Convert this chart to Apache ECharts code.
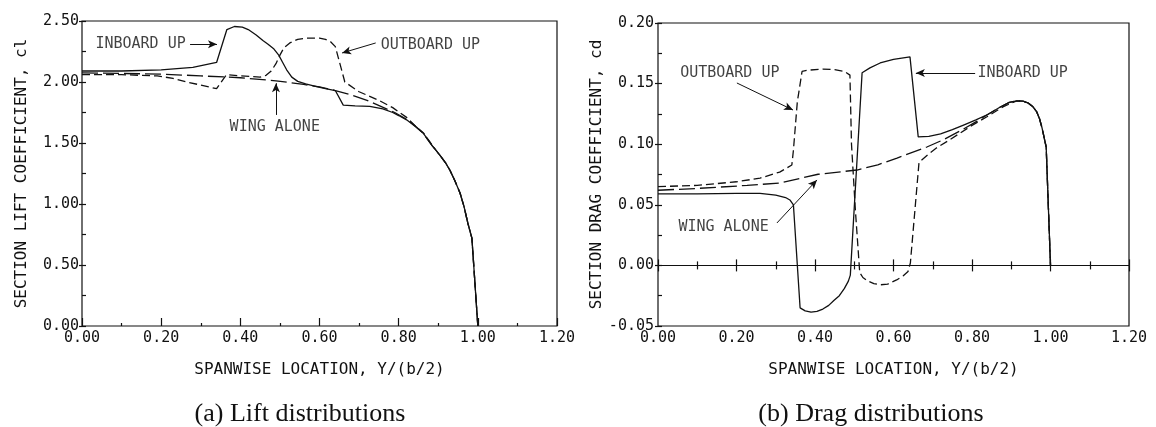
<!DOCTYPE html>
<html>
<head>
<meta charset="utf-8">
<script src="https://cdn.jsdelivr.net/npm/echarts@6/dist/echarts.min.js"></script>
<style>
html, body { margin: 0; padding: 0; background: #fff; }
#chart { width: 1156px; height: 427px; }
</style>
</head>
<body>
<div id="chart"></div>
<script>
// section lift coefficient cl vs spanwise location y/(b/2)
const liftInboardUp = [
  [0, 2.09], [0.1, 2.09], [0.2, 2.10], [0.28, 2.12], [0.34, 2.16], [0.366, 2.43],
  [0.385, 2.455], [0.405, 2.45], [0.42, 2.43], [0.44, 2.385], [0.457, 2.34],
  [0.47, 2.31], [0.485, 2.27], [0.497, 2.22], [0.507, 2.16], [0.517, 2.10],
  [0.53, 2.04], [0.545, 2.005], [0.565, 1.985], [0.59, 1.965], [0.615, 1.945],
  [0.64, 1.93], [0.66, 1.81], [0.69, 1.805], [0.727, 1.80], [0.76, 1.78],
  [0.785, 1.75], [0.80, 1.725], [0.82, 1.69], [0.842, 1.635], [0.862, 1.58],
  [0.884, 1.48], [0.904, 1.40], [0.918, 1.34], [0.929, 1.28], [0.942, 1.19],
  [0.955, 1.09], [0.965, 0.98], [0.975, 0.84], [0.985, 0.72], [1.0, 0.0]
]
const liftOutboardUp = [
  [0, 2.06], [0.1, 2.06], [0.19, 2.05], [0.23, 2.03], [0.265, 2.00], [0.30, 1.975],
  [0.34, 1.945], [0.365, 2.06], [0.40, 2.05], [0.45, 2.04], [0.465, 2.055],
  [0.478, 2.09], [0.49, 2.15], [0.50, 2.22], [0.51, 2.28], [0.525, 2.32],
  [0.545, 2.35], [0.568, 2.36], [0.60, 2.36], [0.615, 2.35], [0.628, 2.33],
  [0.64, 2.29], [0.664, 2.00], [0.70, 1.92], [0.75, 1.85], [0.785, 1.79],
  [0.80, 1.755], [0.82, 1.71], [0.842, 1.64], [0.862, 1.585], [0.884, 1.485],
  [0.904, 1.40], [0.918, 1.34], [0.929, 1.28], [0.942, 1.19], [0.955, 1.09],
  [0.965, 0.98], [0.975, 0.84], [0.985, 0.72], [1.0, 0.0]
]
const liftWingAlone = [
  [0, 2.075], [0.1, 2.07], [0.2, 2.065], [0.3, 2.05], [0.4, 2.035], [0.49, 2.01],
  [0.56, 1.98], [0.60, 1.96], [0.64, 1.93], [0.68, 1.895], [0.72, 1.85],
  [0.755, 1.80], [0.79, 1.75], [0.82, 1.695], [0.842, 1.64], [0.862, 1.58],
  [0.884, 1.48], [0.904, 1.40], [0.918, 1.34], [0.929, 1.28], [0.942, 1.19],
  [0.955, 1.09], [0.965, 0.98], [0.975, 0.84], [0.985, 0.72], [1.0, 0.0]
]

// section drag coefficient cd vs spanwise location y/(b/2)
const dragInboardUp = [
  [0, 0.059], [0.1, 0.059], [0.2, 0.0595], [0.26, 0.0595], [0.30, 0.058],
  [0.325, 0.056], [0.336, 0.054], [0.345, 0.050], [0.362, -0.035], [0.375, -0.0375],
  [0.39, -0.0385], [0.405, -0.038], [0.42, -0.036], [0.435, -0.033], [0.448, -0.029],
  [0.462, -0.025], [0.475, -0.019], [0.485, -0.013], [0.49, -0.008], [0.52, 0.159],
  [0.54, 0.163], [0.566, 0.167], [0.60, 0.170], [0.642, 0.172], [0.663, 0.106],
  [0.69, 0.1065], [0.72, 0.1085], [0.75, 0.112], [0.78, 0.116], [0.81, 0.120],
  [0.84, 0.1245], [0.871, 0.1305], [0.895, 0.1345], [0.914, 0.1358], [0.93, 0.1355],
  [0.943, 0.134], [0.955, 0.131], [0.965, 0.1266], [0.972, 0.121], [0.978, 0.114],
  [0.989, 0.0977], [1.0, 0.0]
]
const dragOutboardUp = [
  [0, 0.065], [0.1, 0.066], [0.2, 0.069], [0.26, 0.072], [0.31, 0.077],
  [0.341, 0.0828], [0.345, 0.095], [0.355, 0.135], [0.367, 0.160], [0.38, 0.161],
  [0.42, 0.162], [0.45, 0.1615], [0.475, 0.160], [0.489, 0.157], [0.493, 0.10],
  [0.503, 0.045], [0.514, -0.006], [0.522, -0.010], [0.535, -0.013], [0.55, -0.015],
  [0.566, -0.016], [0.585, -0.0155], [0.608, -0.012], [0.625, -0.0085], [0.637, -0.005],
  [0.643, 0.002], [0.665, 0.085], [0.69, 0.092], [0.71, 0.097], [0.74, 0.103],
  [0.769, 0.109], [0.80, 0.1155], [0.838, 0.1226], [0.88, 0.131], [0.914, 0.1358],
  [0.93, 0.1355], [0.943, 0.134], [0.955, 0.131], [0.965, 0.1266], [0.972, 0.121],
  [0.978, 0.114], [0.989, 0.0977], [1.0, 0.0]
]
const dragWingAlone = [
  [0, 0.062], [0.1, 0.0635], [0.227, 0.066], [0.311, 0.068], [0.408, 0.0752],
  [0.507, 0.0787], [0.56, 0.083], [0.609, 0.0886], [0.685, 0.0977], [0.726, 0.1035],
  [0.77, 0.111], [0.813, 0.119], [0.84, 0.1245], [0.871, 0.1305], [0.895, 0.1345],
  [0.914, 0.1358], [0.93, 0.1355], [0.943, 0.134], [0.955, 0.131], [0.965, 0.1266],
  [0.972, 0.121], [0.978, 0.114], [0.989, 0.0977], [1.0, 0.0]
]

// annotations: text anchor and arrow (from, to), in data units
const liftNotes = [
  { name: 'INBOARD UP', value: [0.148, 2.31] },
  { name: 'OUTBOARD UP', value: [0.88, 2.303] },
  { name: 'WING ALONE', value: [0.487, 1.631] }
]
const liftArrows = [
  [[0.273, 2.31], [0.341, 2.31]],
  [[0.742, 2.32], [0.657, 2.238]],
  [[0.49, 1.73], [0.49, 1.99]]
]
const dragNotes = [
  { name: 'OUTBOARD UP', value: [0.183, 0.1587] },
  { name: 'INBOARD UP', value: [0.929, 0.1587] },
  { name: 'WING ALONE', value: [0.167, 0.0317] }
]
const dragArrows = [
  [[0.201, 0.1505], [0.344, 0.1282]],
  [[0.808, 0.1587], [0.657, 0.1587]],
  [[0.303, 0.035], [0.405, 0.0705]]
]

const ink = '#111'
const mono = 'DejaVu Sans Mono'
const fmt = v => v.toFixed(2)

function curve(name, data, dash, xi, yi) {
  return {
    name: name,
    type: 'line',
    xAxisIndex: xi,
    yAxisIndex: yi,
    data: data,
    symbol: 'none',
    lineStyle: { color: ink, width: 1.3, type: dash }
  }
}

function notes(data, arrows, xi, yi) {
  return {
    type: 'scatter',
    xAxisIndex: xi,
    yAxisIndex: yi,
    symbolSize: 0,
    data: data,
    label: {
      show: true,
      position: 'inside',
      formatter: '{b}',
      fontFamily: mono,
      fontSize: 15,
      color: ink
    },
    markLine: {
      silent: true,
      symbol: ['none', 'arrow'],
      symbolSize: [6, 9],
      lineStyle: { color: ink, width: 1, type: 'solid' },
      label: { show: false },
      data: arrows.map(a => [{ coord: a[0] }, { coord: a[1] }])
    }
  }
}

const labelStyle = { fontFamily: mono, fontSize: 15, color: ink }
const nameStyle = { fontFamily: mono, fontSize: 16, color: ink }

const option = {
  animation: false,
  backgroundColor: '#fff',
  title: [
    { text: '(a) Lift distributions', left: 295, top: 396, textAlign: 'center',
      textStyle: { fontFamily: 'Liberation Serif', fontSize: 26, fontWeight: 'normal', color: ink } },
    { text: '(b) Drag distributions', left: 866, top: 396, textAlign: 'center',
      textStyle: { fontFamily: 'Liberation Serif', fontSize: 26, fontWeight: 'normal', color: ink } }
  ],
  grid: [
    { left: 82, top: 21, width: 475, height: 305, show: true, borderColor: ink, borderWidth: 1.2 },
    { left: 658, top: 23, width: 471, height: 303, show: true, borderColor: ink, borderWidth: 1.2 }
  ],
  xAxis: [
    {
      gridIndex: 0, type: 'value', min: 0, max: 1.2, interval: 0.2,
      axisLine: { show: false },
      axisTick: { inside: true, length: 8, lineStyle: { color: ink, width: 1.2 } },
      minorTick: { show: true, splitNumber: 2, length: 3, lineStyle: { color: ink, width: 1.2 } },
      splitLine: { show: false },
      axisLabel: Object.assign({ formatter: fmt, margin: 5 }, labelStyle),
      name: 'SPANWISE LOCATION, Y/(b/2)', nameLocation: 'middle', nameGap: 36,
      nameTextStyle: nameStyle
    },
    {
      gridIndex: 1, type: 'value', min: 0, max: 1.2, interval: 0.2, position: 'bottom',
      axisLine: { show: false, onZero: false },
      axisTick: { show: false },
      splitLine: { show: false },
      axisLabel: Object.assign({ formatter: fmt, margin: 5 }, labelStyle),
      name: 'SPANWISE LOCATION, Y/(b/2)', nameLocation: 'middle', nameGap: 36,
      nameTextStyle: nameStyle
    },
    {
      gridIndex: 1, type: 'value', min: 0, max: 1.2, interval: 0.2, position: 'bottom',
      axisLine: { show: true, onZero: true, onZeroAxisIndex: 2, lineStyle: { color: ink, width: 1.2 } },
      axisTick: { inside: true, length: 6, lineStyle: { color: ink, width: 1.2 } },
      minorTick: { show: true, splitNumber: 2, length: 4, lineStyle: { color: ink, width: 1.2 } },
      splitLine: { show: false },
      axisLabel: { show: false }
    },
    {
      gridIndex: 1, type: 'value', min: 0, max: 1.2, interval: 0.2, position: 'top',
      axisLine: { show: false, onZero: true, onZeroAxisIndex: 2 },
      axisTick: { inside: true, length: 6, lineStyle: { color: ink, width: 1.2 } },
      minorTick: { show: true, splitNumber: 2, length: 4, lineStyle: { color: ink, width: 1.2 } },
      splitLine: { show: false },
      axisLabel: { show: false }
    }
  ],
  yAxis: [
    {
      gridIndex: 0, type: 'value', min: 0, max: 2.5, interval: 0.5, position: 'left',
      axisLine: { show: false },
      axisTick: { inside: false, length: 3, lineStyle: { color: ink, width: 1.2 } },
      splitLine: { show: false },
      axisLabel: Object.assign({ formatter: fmt, margin: 3, verticalAlign: 'middle', padding: [0, 0, 11, 0] }, labelStyle),
      name: 'SECTION LIFT COEFFICIENT, cl', nameLocation: 'middle', nameGap: 52, nameRotate: 90,
      nameTextStyle: nameStyle
    },
    {
      gridIndex: 0, type: 'value', min: 0, max: 2.5, interval: 0.25, position: 'left',
      axisLine: { show: false },
      axisTick: { inside: true, length: 4, lineStyle: { color: ink, width: 1.2 } },
      splitLine: { show: false },
      axisLabel: { show: false }
    },
    {
      gridIndex: 1, type: 'value', min: -0.05, max: 0.2, interval: 0.05, position: 'left',
      axisLine: { show: false },
      axisTick: { inside: false, length: 3, lineStyle: { color: ink, width: 1.2 } },
      splitLine: { show: false },
      axisLabel: Object.assign({ formatter: fmt, margin: 4, verticalAlign: 'middle', padding: [0, 0, 11, 0] }, labelStyle),
      name: 'SECTION DRAG COEFFICIENT, cd', nameLocation: 'middle', nameGap: 52, nameRotate: 90,
      nameTextStyle: nameStyle
    },
    {
      gridIndex: 1, type: 'value', min: -0.05, max: 0.2, interval: 0.025, position: 'left',
      axisLine: { show: false },
      axisTick: { inside: true, length: 4, lineStyle: { color: ink, width: 1.2 } },
      splitLine: { show: false },
      axisLabel: { show: false }
    }
  ],
  series: [
    curve('INBOARD UP', liftInboardUp, 'solid', 0, 0),
    curve('OUTBOARD UP', liftOutboardUp, [8, 4], 0, 0),
    curve('WING ALONE', liftWingAlone, [16, 5], 0, 0),
    notes(liftNotes, liftArrows, 0, 0),
    curve('INBOARD UP', dragInboardUp, 'solid', 2, 2),
    curve('OUTBOARD UP', dragOutboardUp, [8, 4], 2, 2),
    curve('WING ALONE', dragWingAlone, [16, 5], 2, 2),
    notes(dragNotes, dragArrows, 2, 2)
  ]
}

const myChart = echarts.init(document.getElementById('chart'))
myChart.setOption(option)
</script>
</body>
</html>
